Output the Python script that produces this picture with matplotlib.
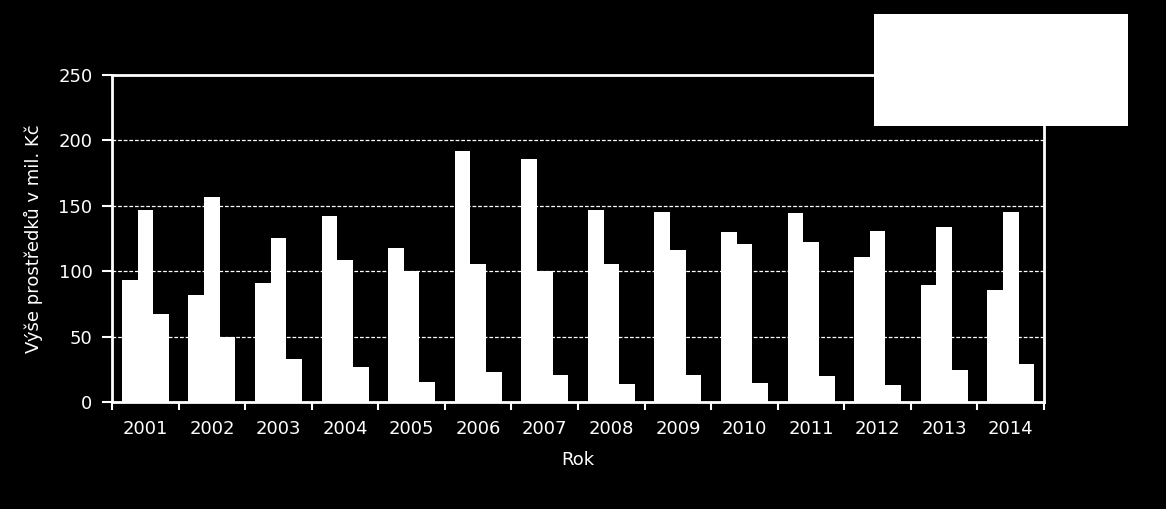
import numpy as np
import matplotlib.pyplot as plt
from matplotlib.patches import Rectangle

years = ['2001', '2002', '2003', '2004', '2005', '2006', '2007',
         '2008', '2009', '2010', '2011', '2012', '2013', '2014']
series_a = [93, 82, 91, 142, 118, 192, 186, 147, 145, 130, 144.5, 111, 89.5, 85.5]
series_b = [147, 157, 125, 108.5, 100, 105.5, 100, 105.5, 116, 121, 122, 131, 134, 145]
series_c = [67, 50, 33, 27, 15, 23, 21, 14, 21, 14.5, 20, 13, 24.5, 29]

fig = plt.figure(figsize=(11.66, 5.09), dpi=100, facecolor='black')
ax = fig.add_axes([0.0961, 0.2102, 0.7993, 0.6425], facecolor='black')

x = np.arange(len(years))
w = 0.235
ax.bar(x - w, series_a, w, color='white', linewidth=0, zorder=3)
ax.bar(x, series_b, w, color='white', linewidth=0, zorder=3)
ax.bar(x + w, series_c, w, color='white', linewidth=0, zorder=3)

ax.set_xlim(-0.5, len(years) - 0.5)
ax.set_ylim(0, 250)
ax.set_yticks([0, 50, 100, 150, 200, 250])
ax.set_xticks(x)
ax.set_xticklabels(years)
ax.set_xticks(np.arange(-0.5, len(years)), minor=True)
ax.tick_params(axis='x', which='major', length=0, pad=13, colors='white', labelsize=13)
ax.tick_params(axis='x', which='minor', length=6, width=1.5, color='white', direction='out')
ax.tick_params(axis='y', length=7, width=1.5, colors='white', labelsize=13, pad=7)

ax.yaxis.grid(True, color='white', linestyle=(0, (3, 1.5)), linewidth=0.9, zorder=1)
for s in ax.spines.values():
    s.set_color('white')
    s.set_linewidth(2)

ax.set_xlabel('Rok', color='white', fontsize=13, labelpad=9)
ax.set_ylabel('Výše prostředků v mil. Kč', color='white', fontsize=13, labelpad=11)

# empty white legend box
fig.patches.append(Rectangle((0.7496, 0.7525), 0.2178, 0.22, transform=fig.transFigure,
                             facecolor='white', edgecolor='none', zorder=5))

fig.savefig('out.png', dpi=100, facecolor='black')
